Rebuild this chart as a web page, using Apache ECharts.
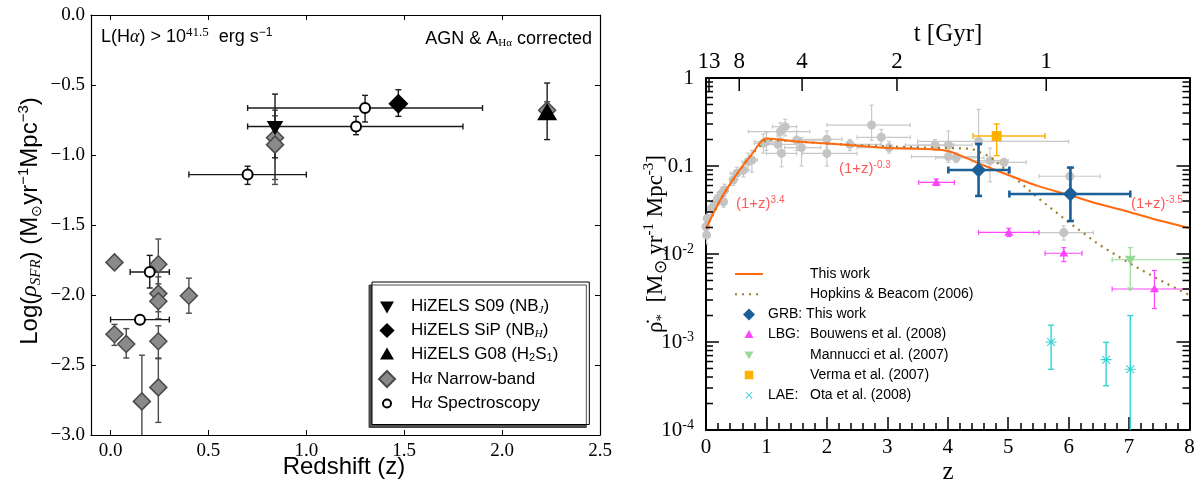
<!DOCTYPE html>
<html>
<head>
<meta charset="utf-8">
<script src="https://cdn.jsdelivr.net/npm/echarts@6/dist/echarts.min.js"></script>
<style>
html, body { margin: 0; padding: 0; background: #fff; }
#chart { width: 1202px; height: 491px; }
</style>
</head>
<body>
<div id="chart"></div>
<script>
// ---------------- Left panel: H-alpha star formation rate density ----------------
// rows: [z, log rho, zLow, zHigh, logA, logB]
const hizelsS09 = [[0.84, -0.80, 0.84, 0.84, -0.565, -1.02]];
const hizelsSiP = [[1.47, -0.634, 1.47, 1.47, -0.534, -0.724]];
const hizelsG08 = [[2.23, -0.70, 2.23, 2.23, -0.486, -0.89]];
const haNarrowBand = [
  [0.84, -0.877, 0.84, 0.84, -0.68, -1.175],
  [0.84, -0.926, 0.84, 0.84, -0.72, -1.21],
  [2.23, -0.68, 2.23, 2.23, -0.62, -0.74],
  [0.02, -1.767, 0.02, 0.02, -1.767, -1.767],
  [0.244, -1.78, 0.244, 0.244, -1.60, -1.95],
  [0.244, -1.99, 0.244, 0.244, -1.87, -2.12],
  [0.244, -2.045, 0.244, 0.244, -1.92, -2.17],
  [0.40, -2.005, 0.40, 0.40, -1.88, -2.13],
  [0.02, -2.28, 0.02, 0.02, -2.21, -2.36],
  [0.08, -2.35, 0.08, 0.08, -2.24, -2.45],
  [0.244, -2.33, 0.244, 0.244, -2.22, -2.455],
  [0.244, -2.66, 0.244, 0.244, -2.45, -2.91],
  [0.16, -2.76, 0.16, 0.16, -2.43, -3.05]
];
const haSpectroscopy = [
  [0.70, -1.14, 0.40, 1.00, -1.08, -1.21],
  [1.30, -0.664, 0.70, 1.90, -0.574, -0.764],
  [1.254, -0.796, 0.70, 1.80, -0.724, -0.855],
  [0.20, -1.836, 0.10, 0.30, -1.717, -1.95],
  [0.15, -2.176, 0.00, 0.30, -2.176, -2.176]
];
const leftXTicks = [0, 0.5, 1.0, 1.5, 2.0, 2.5];

// ---------------- Right panel: cosmic star formation history ----------------
// rows: [z, rho, zLow, zHigh, rhoLow, rhoHigh]
const literature = [
  [0.00, 0.0204, 0.00, 0.02, 0.016, 0.025],
  [0.01, 0.0164, 0.00, 0.02, 0.013, 0.020],
  [0.02, 0.0255, 0.00, 0.05, 0.021, 0.030],
  [0.09, 0.0329, 0.05, 0.13, 0.028, 0.038],
  [0.15, 0.0377, 0.10, 0.20, 0.032, 0.044],
  [0.20, 0.0429, 0.15, 0.25, 0.036, 0.050],
  [0.26, 0.0490, 0.20, 0.32, 0.042, 0.057],
  [0.29, 0.0393, 0.24, 0.34, 0.034, 0.045],
  [0.31, 0.0534, 0.25, 0.37, 0.046, 0.062],
  [0.45, 0.0694, 0.40, 0.50, 0.060, 0.080],
  [0.51, 0.0826, 0.40, 0.60, 0.070, 0.097],
  [0.62, 0.0900, 0.55, 0.70, 0.075, 0.110],
  [0.70, 0.112, 0.60, 0.80, 0.090, 0.140],
  [0.76, 0.117, 0.65, 0.85, 0.085, 0.150],
  [0.95, 0.181, 0.80, 1.10, 0.140, 0.230],
  [1.00, 0.189, 0.80, 1.20, 0.150, 0.240],
  [1.19, 0.176, 0.98, 1.50, 0.140, 0.220],
  [1.25, 0.139, 1.00, 1.50, 0.098, 0.208],
  [1.23, 0.246, 0.70, 1.72, 0.190, 0.310],
  [1.31, 0.280, 1.10, 1.50, 0.220, 0.340],
  [1.50, 0.197, 1.20, 2.00, 0.150, 0.250],
  [1.58, 0.162, 1.30, 1.90, 0.100, 0.210],
  [2.00, 0.201, 1.56, 2.25, 0.160, 0.250],
  [2.00, 0.139, 1.60, 2.50, 0.100, 0.190],
  [2.38, 0.176, 2.00, 2.90, 0.150, 0.200],
  [2.74, 0.292, 2.00, 3.38, 0.197, 0.490],
  [2.90, 0.212, 2.50, 3.38, 0.170, 0.260],
  [3.03, 0.162, 2.50, 3.50, 0.140, 0.190],
  [3.79, 0.173, 3.30, 4.10, 0.150, 0.200],
  [4.01, 0.173, 3.50, 4.40, 0.120, 0.250],
  [4.01, 0.128, 3.40, 4.50, 0.110, 0.150],
  [4.14, 0.124, 3.80, 4.60, 0.110, 0.140],
  [4.51, 0.190, 3.50, 6.00, 0.090, 0.440],
  [4.70, 0.115, 4.40, 5.00, 0.066, 0.160],
  [4.93, 0.110, 4.50, 5.30, 0.100, 0.120],
  [6.02, 0.0765, 5.51, 6.52, 0.060, 0.096],
  [5.92, 0.0175, 5.42, 6.41, 0.0144, 0.021]
];
const grbThisWork = [
  [4.51, 0.090, 4.01, 5.02, 0.0457, 0.178],
  [6.03, 0.048, 5.02, 7.02, 0.0237, 0.096]
];
const lbgBouwens = [
  [3.81, 0.065, 3.52, 4.11, 0.060, 0.071],
  [5.01, 0.0176, 4.51, 5.51, 0.0158, 0.0196],
  [5.92, 0.0102, 5.61, 6.22, 0.0082, 0.0118],
  [7.42, 0.0040, 6.72, 8.30, 0.0024, 0.0065]
];
// last column flags an upper limit (arrow at the low end)
const mannucci = [[7.02, 0.0086, 6.72, 8.30, 0.0038, 0.0118, 1]];
const verma = [[4.81, 0.219, 4.42, 5.61, 0.131, 0.300]];
const laeOta = [
  [5.71, 0.00100, 5.71, 5.71, 0.00049, 0.00155],
  [6.62, 0.00063, 6.62, 6.62, 0.000318, 0.00099],
  [7.02, 0.00049, 7.02, 7.02, 0.00005, 0.0020]
];
const thisWorkFit = [
  [0, 0.0195], [0.25, 0.0427], [0.5, 0.0794], [0.75, 0.134], [1.0, 0.205],
  [1.5, 0.190], [2.0, 0.180], [2.5, 0.170], [3.0, 0.160], [3.5, 0.157],
  [4.0, 0.148], [4.5, 0.108], [5.0, 0.079], [5.5, 0.059], [6.0, 0.047],
  [6.5, 0.037], [7.0, 0.030], [7.5, 0.024], [8.0, 0.0197]
];
const hopkinsBeacom = [
  [0, 0.0195], [0.25, 0.043], [0.5, 0.079], [0.75, 0.134], [1.0, 0.200],
  [1.5, 0.190], [2.0, 0.180], [2.5, 0.173], [3.0, 0.167], [3.5, 0.163],
  [4.0, 0.160], [4.4, 0.157], [4.7, 0.128], [5.0, 0.085], [5.5, 0.043],
  [6.0, 0.023], [6.5, 0.0128], [7.0, 0.0079], [7.5, 0.0051], [8.0, 0.0034]
];
// cosmic age axis on top: position in z and label in Gyr
const ageTickZ = [0.05, 0.55, 1.59, 3.16, 5.63];
const ageTickLabels = ['13', '8', '4', '2', '1'];

const SERIF = '"Liberation Serif", "Times New Roman", serif';
const SANS = '"Liberation Sans", Arial, Helvetica, sans-serif';

// minor log ticks 2..9 in every decade between 1e-4 and 1
const logMinorTicks = [];
for (let e = -4; e < 0; e++) {
  for (let k = 2; k <= 9; k++) logMinorTicks.push([0, k * Math.pow(10, e)]);
}

function errorBars(data, xi, yi, color, width, cap, z) {
  return {
    type: 'custom', xAxisIndex: xi, yAxisIndex: yi, data: data, z: z,
    silent: true, clip: true,
    renderItem: function (params, api) {
      const x = api.value(0), y = api.value(1);
      const xl = api.value(2), xh = api.value(3), yl = api.value(4), yh = api.value(5);
      const lim = api.value(6) === 1;
      const st = { stroke: color, lineWidth: width, fill: null };
      const kids = [];
      const seg = (a, b) => kids.push({ type: 'line', shape: { x1: a[0], y1: a[1], x2: b[0], y2: b[1] }, style: st });
      if (xl !== xh) {
        const a = api.coord([xl, y]), b = api.coord([xh, y]);
        seg(a, b);
        seg([a[0], a[1] - cap], [a[0], a[1] + cap]);
        seg([b[0], b[1] - cap], [b[0], b[1] + cap]);
      }
      if (yl !== yh) {
        const a = api.coord([x, yl]), b = api.coord([x, yh]);
        seg(a, b);
        if (lim) {
          seg([a[0] - cap, a[1] - cap * 1.6], [a[0], a[1]]);
          seg([a[0] + cap, a[1] - cap * 1.6], [a[0], a[1]]);
        } else {
          seg([a[0] - cap, a[1]], [a[0] + cap, a[1]]);
        }
        seg([b[0] - cap, b[1]], [b[0] + cap, b[1]]);
      }
      return { type: 'group', children: kids };
    }
  };
}

// marker outlines; an optional empty margin (pad) shrinks the drawn shape inside its box
function padded(shape, pad) {
  return 'path://' + (pad ? 'M' + (-pad) + ',' + (-pad) + ' M' + pad + ',' + pad + ' ' : '') + shape;
}
const DIAMOND = 'M0,-10 L10,0 L0,10 L-10,0 Z';
const TRI_UP = 'M0,-10 L10,7.32 L-10,7.32 Z';
const TRI_DOWN = 'M-10,-7.32 L10,-7.32 L0,10 Z';
const SQUARE = 'M-10,-10 L10,-10 L10,10 L-10,10 Z';
const CIRCLE = 'M-10,0 A10,10 0 1,0 10,0 A10,10 0 1,0 -10,0 Z';
const ASTERISK = 'M-10,-1 L10,-1 L10,1 L-10,1 Z M-6.36,-7.78 L7.78,6.36 L6.36,7.78 L-7.78,-6.36 Z M-7.78,6.36 L6.36,-7.78 L7.78,-6.36 L-6.36,7.78 Z';
const CROSS = 'M-6.36,-7.78 L7.78,6.36 L6.36,7.78 L-7.78,-6.36 Z M-7.78,6.36 L6.36,-7.78 L7.78,-6.36 L-6.36,7.78 Z';

const leftLegendText = {
  'HiZELS S09 (NBJ)': '{t|HiZELS S09 (NB}{si|J}{t|)}',
  'HiZELS SiP (NBH)': '{t|HiZELS SiP (NB}{si|H}{t|)}',
  'HiZELS G08 (H2S1)': '{t|HiZELS G08 (H}{s|2}{t|S}{s|1}{t|)}',
  'Hα Narrow-band': '{t|H}{a|α}{t| Narrow-band}',
  'Hα Spectroscopy': '{t|H}{a|α}{t| Spectroscopy}'
};
const rightLegendText = {
  'This work': '{p|}{n|This work}',
  'Hopkins & Beacom (2006)': '{p|}{n|Hopkins & Beacom (2006)}',
  'GRB: This work': '{n|GRB: This work}',
  'LBG:  Bouwens et al. (2008)': '{p|LBG:}{n|Bouwens et al. (2008)}',
  'Mannucci et al. (2007)': '{p|}{n|Mannucci et al. (2007)}',
  'Verma et al. (2007)': '{p|}{n|Verma et al. (2007)}',
  'LAE:  Ota et al. (2008)': '{p|LAE:}{n|Ota et al. (2008)}'
};

const leftTickLabel = { color: '#000', fontFamily: SERIF, fontSize: 19 };
const rightTickLabel = { color: '#000', fontFamily: SERIF, fontSize: 21 };
const hiddenMarker = { opacity: 0, borderWidth: 0 };

const option = {
  backgroundColor: '#fff',
  animation: false,
  grid: [
    { left: 91, top: 15, width: 509, height: 420 },
    { left: 706, top: 78, width: 483.5, height: 352 }
  ],
  xAxis: [
    {
      gridIndex: 0, type: 'value', min: -0.1, max: 2.5, position: 'bottom',
      axisLine: { onZero: false, lineStyle: { color: '#000', width: 1.2 } },
      axisTick: { inside: true, length: 5, customValues: leftXTicks, lineStyle: { color: '#000' } },
      axisLabel: Object.assign({ margin: 7, customValues: leftXTicks, formatter: v => v.toFixed(1) }, leftTickLabel),
      splitLine: { show: false }
    },
    {
      gridIndex: 0, type: 'value', min: -0.1, max: 2.5, position: 'top',
      axisLine: { onZero: false, lineStyle: { color: '#000', width: 1.2 } },
      axisTick: { inside: true, length: 5, customValues: leftXTicks, lineStyle: { color: '#000' } },
      axisLabel: { show: false }, splitLine: { show: false }
    },
    {
      gridIndex: 1, type: 'value', min: 0, max: 8, interval: 1, position: 'bottom',
      axisLine: { onZero: false, lineStyle: { color: '#000', width: 2 } },
      axisTick: { inside: true, length: 13, lineStyle: { color: '#000', width: 1.5 } },
      minorTick: { show: true, splitNumber: 5, length: 7, lineStyle: { color: '#000', width: 1.5 } },
      axisLabel: Object.assign({ margin: 7 }, rightTickLabel),
      splitLine: { show: false }
    },
    {
      gridIndex: 1, type: 'value', min: 0, max: 8, position: 'top',
      axisLine: { onZero: false, lineStyle: { color: '#000', width: 2 } },
      axisTick: { show: false }, axisLabel: { show: false }, splitLine: { show: false }
    }
  ],
  yAxis: [
    {
      gridIndex: 0, type: 'value', min: -3, max: 0, interval: 0.5, position: 'left',
      axisLine: { show: true, onZero: false, lineStyle: { color: '#000', width: 1.2 } },
      axisTick: { show: true, inside: true, length: 5, lineStyle: { color: '#000' } },
      axisLabel: Object.assign({ margin: 6, formatter: v => v === 0 ? '0.0' : '\u2212' + Math.abs(v).toFixed(1) }, leftTickLabel),
      splitLine: { show: false }
    },
    {
      gridIndex: 0, type: 'value', min: -3, max: 0, interval: 0.5, position: 'right',
      axisLine: { show: true, onZero: false, lineStyle: { color: '#000', width: 1.2 } },
      axisTick: { show: true, inside: true, length: 5, lineStyle: { color: '#000' } },
      axisLabel: { show: false }, splitLine: { show: false }
    },
    {
      gridIndex: 1, type: 'log', logBase: 10, min: 1e-4, max: 1, position: 'left',
      axisLine: { show: true, onZero: false, lineStyle: { color: '#000', width: 2 } },
      axisTick: { show: true, inside: true, length: 13, lineStyle: { color: '#000', width: 1.5 } },
      axisLabel: {
        margin: 12,
        formatter: v => {
          const e = Math.round(Math.log10(v));
          if (e === 0) return '{b|1}';
          if (e === -1) return '{b|0.1}';
          return '{b|10}{e|' + e + '}';
        },
        rich: {
          b: { fontFamily: SERIF, fontSize: 21, color: '#000', lineHeight: 24 },
          e: { fontFamily: SERIF, fontSize: 14, color: '#000', lineHeight: 14, verticalAlign: 'top' }
        }
      },
      splitLine: { show: false }
    },
    {
      gridIndex: 1, type: 'log', logBase: 10, min: 1e-4, max: 1, position: 'right',
      axisLine: { show: true, onZero: false, lineStyle: { color: '#000', width: 2 } },
      axisTick: { show: true, inside: true, length: 13, lineStyle: { color: '#000', width: 1.5 } },
      axisLabel: { show: false }, splitLine: { show: false }
    }
  ],
  legend: [
    {
      left: 372, top: 282, orient: 'vertical',
      data: ['HiZELS S09 (NBJ)', 'HiZELS SiP (NBH)', 'HiZELS G08 (H2S1)', 'Hα Narrow-band', 'Hα Spectroscopy'],
      itemWidth: 38, itemHeight: 16, itemGap: 6.5,
      padding: [16, 31, 12, 6],
      backgroundColor: '#fff', borderColor: '#000', borderWidth: 1,
      shadowColor: 'rgba(60,60,60,0.9)', shadowOffsetX: -3, shadowOffsetY: 3, shadowBlur: 0,
      selectedMode: false, symbolKeepAspect: true,
      formatter: n => leftLegendText[n] || n,
      textStyle: {
        color: '#000', fontFamily: SANS, fontSize: 17,
        rich: {
          t: { fontFamily: SANS, fontSize: 17, lineHeight: 18, color: '#000' },
          a: { fontFamily: SERIF, fontStyle: 'italic', fontSize: 17, lineHeight: 18, color: '#000' },
          s: { fontFamily: SANS, fontSize: 11, lineHeight: 11, verticalAlign: 'bottom', color: '#000' },
          si: { fontFamily: SERIF, fontStyle: 'italic', fontSize: 11, lineHeight: 11, verticalAlign: 'bottom', color: '#000' }
        }
      }
    },
    {
      left: 734, top: 267, orient: 'vertical', padding: 0,
      data: [
        { name: 'This work', itemStyle: hiddenMarker },
        { name: 'Hopkins & Beacom (2006)', itemStyle: hiddenMarker },
        'GRB: This work', 'LBG:  Bouwens et al. (2008)',
        'Mannucci et al. (2007)', 'Verma et al. (2007)',
        { name: 'LAE:  Ota et al. (2008)', icon: padded(CROSS, 13.3) }
      ],
      itemWidth: 28, itemHeight: 12, itemGap: 6.2,
      selectedMode: false, symbolKeepAspect: true,
      formatter: n => rightLegendText[n] || n,
      textStyle: {
        color: '#000', fontFamily: SANS, fontSize: 14,
        rich: {
          p: { width: 42, fontFamily: SANS, fontSize: 14, lineHeight: 14, color: '#000' },
          n: { fontFamily: SANS, fontSize: 14, lineHeight: 14, color: '#000' }
        }
      }
    }
  ],
  graphic: [
    {
      type: 'text', x: 101, y: 37,
      style: {
        text: '{n|L(H}{a|α}{n|) > 10}{e|41.5}{n|  erg s}{u|\u22121}',
        textVerticalAlign: 'middle', verticalAlign: 'middle',
        rich: {
          n: { fontFamily: SANS, fontSize: 18, lineHeight: 21, fill: '#000' },
          a: { fontFamily: SERIF, fontStyle: 'italic', fontSize: 18, lineHeight: 21, fill: '#000' },
          e: { fontFamily: SERIF, fontSize: 13, lineHeight: 12, verticalAlign: 'top', fill: '#000' },
          u: { fontFamily: SANS, fontSize: 12, lineHeight: 12, verticalAlign: 'top', fill: '#000' }
        }
      }
    },
    {
      type: 'text', x: 592, y: 39,
      style: {
        text: '{n|AGN & A}{s|Hα}{n| corrected}',
        textAlign: 'right', align: 'right', textVerticalAlign: 'middle', verticalAlign: 'middle',
        rich: {
          n: { fontFamily: SANS, fontSize: 18, lineHeight: 20, fill: '#000' },
          s: { fontFamily: SERIF, fontSize: 11, lineHeight: 11, verticalAlign: 'bottom', fill: '#000' }
        }
      }
    },
    {
      type: 'text', x: 344, y: 467,
      style: { text: 'Redshift (z)', font: '24px ' + SANS, fill: '#000', textAlign: 'center', align: 'center', textVerticalAlign: 'middle', verticalAlign: 'middle' }
    },
    {
      type: 'text', x: 30, y: 221, rotation: Math.PI / 2,
      style: {
        text: '{n|Log(}{r|ρ}{rs|SFR}{n|) (M}{o|\u2299}{n|yr}{u|\u22121}{n|Mpc}{u|\u22123}{n|)}',
        textAlign: 'center', align: 'center', textVerticalAlign: 'middle', verticalAlign: 'middle',
        rich: {
          n: { fontFamily: SANS, fontSize: 24, lineHeight: 28, fill: '#000' },
          r: { fontFamily: SERIF, fontStyle: 'italic', fontSize: 24, lineHeight: 28, fill: '#000' },
          rs: { fontFamily: SERIF, fontStyle: 'italic', fontSize: 15, lineHeight: 15, verticalAlign: 'bottom', fill: '#000' },
          o: { fontFamily: SANS, fontSize: 14, lineHeight: 14, verticalAlign: 'bottom', fill: '#000' },
          u: { fontFamily: SANS, fontSize: 15, lineHeight: 15, verticalAlign: 'top', fill: '#000' }
        }
      }
    },
    {
      type: 'text', x: 948, y: 34,
      style: { text: 't [Gyr]', font: '25px ' + SERIF, fill: '#000', textAlign: 'center', align: 'center', textVerticalAlign: 'middle', verticalAlign: 'middle' }
    },
    {
      type: 'text', x: 948, y: 472,
      style: { text: 'z', font: '25px ' + SERIF, fill: '#000', textAlign: 'center', align: 'center', textVerticalAlign: 'middle', verticalAlign: 'middle' }
    },
    {
      type: 'text', x: 656, y: 244, rotation: Math.PI / 2,
      style: {
        text: '{n|ρ\u0307}{s|*}{n|  [M}{o|\u2299}{n| yr}{u|-1}{n| Mpc}{u|-3}{n|]}',
        textAlign: 'center', align: 'center', textVerticalAlign: 'middle', verticalAlign: 'middle',
        rich: {
          n: { fontFamily: SERIF, fontSize: 23, lineHeight: 28, fill: '#000' },
          s: { fontFamily: SERIF, fontSize: 15, lineHeight: 15, verticalAlign: 'bottom', fill: '#000' },
          o: { fontFamily: SERIF, fontSize: 17, lineHeight: 17, verticalAlign: 'bottom', fill: '#000' },
          u: { fontFamily: SERIF, fontSize: 15, lineHeight: 15, verticalAlign: 'top', fill: '#000' }
        }
      }
    },
    {
      type: 'text', x: 736, y: 204,
      style: {
        text: '{n|(1+z)}{u|3.4}', textVerticalAlign: 'middle', verticalAlign: 'middle',
        rich: {
          n: { fontFamily: SANS, fontSize: 15, lineHeight: 18, fill: '#ff5a5a' },
          u: { fontFamily: SANS, fontSize: 10, lineHeight: 10, verticalAlign: 'top', fill: '#ff5a5a' }
        }
      }
    },
    {
      type: 'text', x: 839, y: 169,
      style: {
        text: '{n|(1+z)}{u|-0.3}', textVerticalAlign: 'middle', verticalAlign: 'middle',
        rich: {
          n: { fontFamily: SANS, fontSize: 15, lineHeight: 18, fill: '#ff5a5a' },
          u: { fontFamily: SANS, fontSize: 10, lineHeight: 10, verticalAlign: 'top', fill: '#ff5a5a' }
        }
      }
    },
    {
      type: 'text', x: 1131, y: 204,
      style: {
        text: '{n|(1+z)}{u|-3.5}', textVerticalAlign: 'middle', verticalAlign: 'middle',
        rich: {
          n: { fontFamily: SANS, fontSize: 15, lineHeight: 18, fill: '#ff5a5a' },
          u: { fontFamily: SANS, fontSize: 10, lineHeight: 10, verticalAlign: 'top', fill: '#ff5a5a' }
        }
      }
    }
  ],
  series: [
    // ----- left panel -----
    errorBars(haNarrowBand, 0, 0, '#4a4a4a', 1.4, 3, 2),
    errorBars(haSpectroscopy, 0, 0, '#1a1a1a', 1.4, 3, 2),
    errorBars(hizelsS09, 0, 0, '#1a1a1a', 1.4, 3, 2),
    errorBars(hizelsSiP, 0, 0, '#1a1a1a', 1.4, 3, 2),
    errorBars(hizelsG08, 0, 0, '#1a1a1a', 1.4, 3, 2),
    {
      name: 'Hα Narrow-band', type: 'scatter', xAxisIndex: 0, yAxisIndex: 0, z: 3,
      data: haNarrowBand, symbol: padded(DIAMOND, 0), symbolSize: 17, symbolKeepAspect: true,
      itemStyle: { color: '#8a8a8a', borderColor: '#4a4a4a', borderWidth: 1.5, opacity: 1 }
    },
    {
      name: 'Hα Spectroscopy', type: 'scatter', xAxisIndex: 0, yAxisIndex: 0, z: 4,
      data: haSpectroscopy, symbol: padded(CIRCLE, 20), symbolSize: 20, symbolKeepAspect: true,
      itemStyle: { color: '#fff', borderColor: '#000', borderWidth: 2, opacity: 1 }
    },
    {
      name: 'HiZELS S09 (NBJ)', type: 'scatter', xAxisIndex: 0, yAxisIndex: 0, z: 5,
      data: hizelsS09, symbol: padded(TRI_DOWN, 11.5), symbolSize: 19, symbolKeepAspect: true,
      itemStyle: { color: '#000', opacity: 1 }
    },
    {
      name: 'HiZELS SiP (NBH)', type: 'scatter', xAxisIndex: 0, yAxisIndex: 0, z: 5,
      data: hizelsSiP, symbol: padded(DIAMOND, 10.5), symbolSize: 21, symbolKeepAspect: true,
      itemStyle: { color: '#000', opacity: 1 }
    },
    {
      name: 'HiZELS G08 (H2S1)', type: 'scatter', xAxisIndex: 0, yAxisIndex: 0, z: 5,
      data: hizelsG08, symbol: padded(TRI_UP, 11.5), symbolSize: 23, symbolKeepAspect: true,
      itemStyle: { color: '#000', opacity: 1 }
    },

    // ----- right panel -----
    {
      type: 'custom', xAxisIndex: 2, yAxisIndex: 2, data: logMinorTicks, z: 8, silent: true, clip: false,
      renderItem: function (params, api) {
        const v = api.value(1);
        const l = api.coord([0, v]), r = api.coord([8, v]);
        const st = { stroke: '#000', lineWidth: 1.5 };
        return {
          type: 'group', children: [
            { type: 'line', shape: { x1: l[0], y1: l[1], x2: l[0] + 7, y2: l[1] }, style: st },
            { type: 'line', shape: { x1: r[0], y1: r[1], x2: r[0] - 7, y2: r[1] }, style: st }
          ]
        };
      }
    },
    {
      type: 'custom', xAxisIndex: 2, yAxisIndex: 2, z: 8, silent: true, clip: false,
      data: ageTickZ.map((z, i) => [z, 1, i]),
      renderItem: function (params, api) {
        const p = api.coord([api.value(0), 1]);
        const label = ageTickLabels[api.value(2)];
        return {
          type: 'group', children: [
            { type: 'line', shape: { x1: p[0], y1: p[1], x2: p[0], y2: p[1] + 13 }, style: { stroke: '#000', lineWidth: 1.5 } },
            {
              type: 'text', x: p[0], y: p[1] - 5,
              style: { text: label, font: '23px ' + SERIF, fill: '#000', textAlign: 'center', align: 'center', textVerticalAlign: 'bottom', verticalAlign: 'bottom' }
            }
          ]
        };
      }
    },
    errorBars(literature, 2, 2, '#c8c8c8', 1.2, 2, 2),
    {
      type: 'scatter', xAxisIndex: 2, yAxisIndex: 2, z: 3, silent: true,
      data: literature, symbol: 'circle', symbolSize: 9,
      itemStyle: { color: '#c4c4c4', opacity: 1 }
    },
    {
      name: 'Hopkins & Beacom (2006)', type: 'line', xAxisIndex: 2, yAxisIndex: 2, z: 4,
      data: hopkinsBeacom, symbol: 'none', smooth: false,
      lineStyle: { color: '#9c7f2c', width: 2.2, type: [2, 5] },
      itemStyle: { color: '#9c7f2c' }
    },
    {
      name: 'This work', type: 'line', xAxisIndex: 2, yAxisIndex: 2, z: 5,
      data: thisWorkFit, symbol: 'none', smooth: 0.3,
      lineStyle: { color: '#ff6a10', width: 2 },
      itemStyle: { color: '#ff6a10' }
    },
    errorBars(lbgBouwens, 2, 2, '#ff44ff', 1.2, 2.5, 6),
    errorBars(mannucci, 2, 2, '#98d898', 1.2, 2.5, 6),
    errorBars(verma, 2, 2, '#ffb000', 1.4, 3, 6),
    errorBars(laeOta, 2, 2, '#33d3d3', 1.4, 3, 6),
    errorBars(grbThisWork, 2, 2, '#1b5f98', 2.6, 3.5, 6),
    {
      name: 'LBG:  Bouwens et al. (2008)', type: 'scatter', xAxisIndex: 2, yAxisIndex: 2, z: 7,
      data: lbgBouwens, symbol: padded(TRI_UP, 13.3), symbolSize: 12, symbolKeepAspect: true,
      itemStyle: { color: '#ff44ff', opacity: 1 }
    },
    {
      name: 'Mannucci et al. (2007)', type: 'scatter', xAxisIndex: 2, yAxisIndex: 2, z: 7,
      data: mannucci, symbol: padded(TRI_DOWN, 13.3), symbolSize: 14.5, symbolKeepAspect: true,
      itemStyle: { color: '#98d898', opacity: 1 }
    },
    {
      name: 'Verma et al. (2007)', type: 'scatter', xAxisIndex: 2, yAxisIndex: 2, z: 7,
      data: verma, symbol: padded(SQUARE, 14), symbolSize: 14, symbolKeepAspect: true,
      itemStyle: { color: '#ffb000', opacity: 1 }
    },
    {
      name: 'LAE:  Ota et al. (2008)', type: 'scatter', xAxisIndex: 2, yAxisIndex: 2, z: 7,
      data: laeOta, symbol: padded(ASTERISK, 0), symbolSize: 11, symbolKeepAspect: true,
      itemStyle: { color: '#33d3d3', opacity: 1 }
    },
    {
      name: 'GRB: This work', type: 'scatter', xAxisIndex: 2, yAxisIndex: 2, z: 7,
      data: grbThisWork, symbol: padded(DIAMOND, 0), symbolSize: 15, symbolKeepAspect: true,
      itemStyle: { color: '#1b5f98', opacity: 1 }
    }
  ]
};

const chart = echarts.init(document.getElementById('chart'));
chart.setOption(option);
</script>
</body>
</html>
